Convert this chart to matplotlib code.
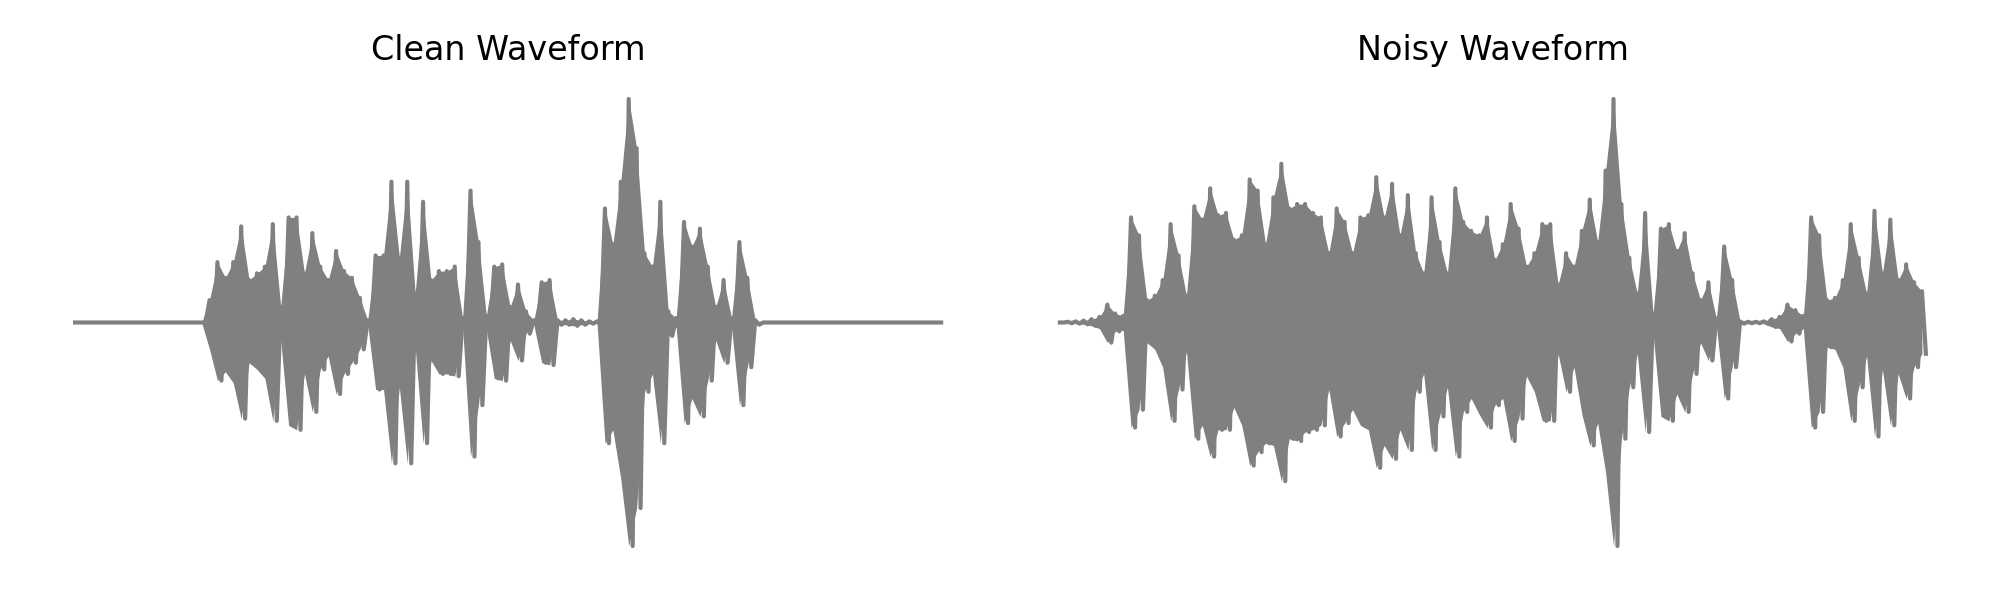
import numpy as np
from matplotlib import pyplot as plt

# envelope of each waveform, read column by column (normalised to peak = 1)
clean_upper = [
    0.0, 0.0, 0.0, 0.0, 0.0, 0.0, 0.0, 0.0, 0.0, 0.0,
    0.0, 0.0, 0.0, 0.0, 0.0, 0.0, 0.0, 0.10, 0.27, 0.20,
    0.27, 0.43, 0.19, 0.22, 0.25, 0.44, 0.07, 0.47, 0.47, 0.22,
    0.40, 0.25, 0.19, 0.32, 0.23, 0.20, 0.11, 0.01, 0.30, 0.30,
    0.63, 0.29, 0.63, 0.13, 0.54, 0.19, 0.23, 0.23, 0.25, 0.02,
    0.59, 0.36, 0.03, 0.25, 0.26, 0.07, 0.17, 0.05, 0.01, 0.18,
    0.19, 0.01, 0.01, 0.015, 0.01, 0.005, 0.005, 0.51, 0.35, 0.63,
    1.00, 0.78, 0.31, 0.25, 0.54, 0.05, 0.02, 0.45, 0.34, 0.42,
    0.25, 0.07, 0.19, 0.02, 0.36, 0.20, 0.01, 0.0, 0.0, 0.0,
    0.0, 0.0, 0.0, 0.0, 0.0, 0.0, 0.0, 0.0, 0.0, 0.0,
    0.0, 0.0, 0.0, 0.0, 0.0, 0.0, 0.0, 0.0, 0.0, 0.0,
]
clean_lower = [
    0.0, 0.0, 0.0, 0.0, 0.0, 0.0, 0.0, 0.0, 0.0, 0.0,
    0.0, 0.0, 0.0, 0.0, 0.0, 0.0, 0.0, -0.12, -0.26, -0.22,
    -0.27, -0.43, -0.18, -0.21, -0.25, -0.44, -0.08, -0.46, -0.48, -0.23,
    -0.40, -0.21, -0.15, -0.32, -0.23, -0.18, -0.12, -0.01, -0.30, -0.30,
    -0.63, -0.29, -0.63, -0.11, -0.54, -0.17, -0.23, -0.23, -0.24, -0.02,
    -0.60, -0.37, -0.03, -0.25, -0.26, -0.08, -0.17, -0.05, -0.01, -0.18,
    -0.19, -0.01, -0.01, -0.015, -0.01, -0.005, -0.005, -0.54, -0.48, -0.70,
    -1.00, -0.83, -0.31, -0.23, -0.54, -0.06, -0.02, -0.45, -0.34, -0.42,
    -0.26, -0.08, -0.18, -0.02, -0.37, -0.20, -0.01, 0.0, 0.0, 0.0,
    0.0, 0.0, 0.0, 0.0, 0.0, 0.0, 0.0, 0.0, 0.0, 0.0,
    0.0, 0.0, 0.0, 0.0, 0.0, 0.0, 0.0, 0.0, 0.0, 0.0,
]

noisy_upper = [
    0.0, 0.003, 0.005, 0.008, 0.015, 0.025, 0.08, 0.04, 0.03, 0.47,
    0.39, 0.10, 0.12, 0.19, 0.44, 0.30, 0.12, 0.52, 0.46, 0.60,
    0.48, 0.49, 0.37, 0.39, 0.64, 0.59, 0.35, 0.56, 0.71, 0.51,
    0.53, 0.53, 0.49, 0.47, 0.31, 0.51, 0.45, 0.31, 0.47, 0.48,
    0.65, 0.47, 0.62, 0.39, 0.57, 0.31, 0.22, 0.56, 0.36, 0.22,
    0.60, 0.45, 0.41, 0.39, 0.47, 0.28, 0.35, 0.53, 0.42, 0.25,
    0.31, 0.44, 0.44, 0.17, 0.31, 0.25, 0.41, 0.55, 0.36, 0.68,
    1.00, 0.53, 0.29, 0.13, 0.49, 0.04, 0.42, 0.44, 0.32, 0.40,
    0.22, 0.10, 0.18, 0.018, 0.34, 0.19, 0.005, 0.003, 0.003, 0.005,
    0.015, 0.025, 0.08, 0.055, 0.03, 0.47, 0.39, 0.10, 0.11, 0.19,
    0.44, 0.29, 0.13, 0.50, 0.22, 0.46, 0.19, 0.26, 0.18, 0.14,
]
noisy_lower = [
    0.0, -0.003, -0.005, -0.008, -0.015, -0.027, -0.09, -0.04, -0.035, -0.47,
    -0.39, -0.09, -0.12, -0.20, -0.44, -0.30, -0.13, -0.52, -0.46, -0.60,
    -0.48, -0.48, -0.38, -0.46, -0.64, -0.58, -0.54, -0.55, -0.71, -0.52,
    -0.53, -0.49, -0.48, -0.46, -0.30, -0.51, -0.45, -0.39, -0.46, -0.48,
    -0.65, -0.55, -0.61, -0.48, -0.57, -0.31, -0.23, -0.57, -0.42, -0.29,
    -0.60, -0.40, -0.34, -0.41, -0.47, -0.37, -0.34, -0.53, -0.43, -0.24,
    -0.31, -0.44, -0.44, -0.14, -0.31, -0.20, -0.41, -0.55, -0.45, -0.67,
    -1.00, -0.52, -0.29, -0.14, -0.49, -0.05, -0.42, -0.44, -0.32, -0.40,
    -0.23, -0.09, -0.17, -0.012, -0.34, -0.20, -0.005, -0.003, -0.003, -0.005,
    -0.02, -0.027, -0.085, -0.05, -0.027, -0.47, -0.40, -0.11, -0.12, -0.20,
    -0.44, -0.29, -0.15, -0.51, -0.21, -0.46, -0.23, -0.34, -0.20, -0.14,
]

titles = ['Clean Waveform', 'Noisy Waveform']


def zigzag(upper, lower):
    # alternate between the top and bottom of the envelope, like raw samples
    x = np.arange(len(upper))
    xs = np.column_stack([x, x + 0.5]).ravel()
    ys = np.column_stack([upper, lower]).ravel()
    return xs, ys


fig = plt.figure(figsize=(10, 3), dpi=200)
ax_clean = fig.add_axes([0.0159, 0.0527, 0.4763, 0.8196])
ax_noisy = fig.add_axes([0.5083, 0.0527, 0.4763, 0.8196])

for ax, (upper, lower), title in zip(
    [ax_clean, ax_noisy],
    [(clean_upper, clean_lower), (noisy_upper, noisy_lower)],
    titles,
):
    x = np.arange(len(upper))
    # solid body of the waveform, then the sample stroke on top
    ax.fill_between(x, lower, upper, color='gray', linewidth=0)
    xs, ys = zigzag(upper, lower)
    ax.plot(xs, ys, color='gray', linewidth=1.5)
    ax.set_title(title)
    ax.axis('off')

fig.savefig('out.png', dpi=200)
